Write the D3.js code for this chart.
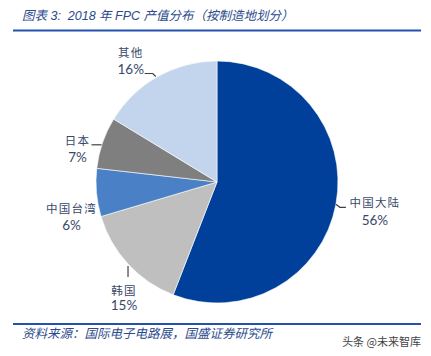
<!DOCTYPE html>
<html>
<head>
<meta charset="utf-8">
<script src="https://cdn.jsdelivr.net/npm/d3@7/dist/d3.min.js"></script>
<style>
  html, body { margin: 0; padding: 0; background: #fff; }
  svg { display: block; }
  text { white-space: pre; }
</style>
</head>
<body>
<svg id="chart" width="431" height="356"></svg>
<script>
// ---- data ----
const categories = ["中国大陆", "韩国", "中国台湾", "日本", "其他"];
const values = [55.9, 14.5, 6.4, 6.9, 16.3];
const percentLabels = ["56%", "15%", "6%", "7%", "16%"];
const colors = ["#00409a", "#bfbfbf", "#4a80c6", "#7f7f7f", "#c3d4ed"];
const titleText = "图表 3:  2018 年 FPC 产值分布（按制造地划分）";
const sourceText = "资料来源：国际电子电路展，国盛证券研究所";
const watermarkText = "头条 @未来智库";

const W = 431, H = 356;
const svg = d3.select("#chart");
const cx = 217, cy = 182, R = 121;

// header
svg.append("text").attr("x", 22).attr("y", 20)
  .attr("font-family", "'Liberation Sans', 'Noto Sans CJK SC', sans-serif")
  .attr("font-style", "italic").attr("font-size", 12.5)
  .attr("fill", "#2b4a8c").text(titleText);
svg.append("rect").attr("x", 13).attr("y", 29.5).attr("width", 408).attr("height", 2).attr("fill", "#2451b0");

// footer
svg.append("rect").attr("x", 13).attr("y", 323).attr("width", 408).attr("height", 2).attr("fill", "#2451b0");
svg.append("text").attr("x", 22).attr("y", 338)
  .attr("font-family", "'Noto Sans CJK SC', sans-serif")
  .attr("font-style", "italic").attr("font-size", 12.5)
  .attr("fill", "#2b4a8c").text(sourceText);
svg.append("text").attr("x", 421).attr("y", 346).attr("text-anchor", "end")
  .attr("font-family", "'Noto Sans CJK SC', sans-serif")
  .attr("font-size", 11).attr("fill", "#444").text(watermarkText);

// pie
const pie = d3.pie().sort(null).value(d => d)(values);
const arc = d3.arc().innerRadius(0).outerRadius(R);
const g = svg.append("g").attr("transform", `translate(${cx},${cy})`);
g.selectAll("path").data(pie).join("path")
  .attr("d", arc)
  .attr("fill", (d, i) => colors[i])
  .attr("stroke", "#fff").attr("stroke-width", 0.6);

// label layout relative to slice mid-point on the rim
const layouts = [
  { leader: [[0,0],[4,3],[10,3]], label: [39, -2], pct: [39, 16] },
  { leader: [[0,2],[0,13]],       label: [-4, 26], pct: [-4, 41] },
  { leader: null,                 label: [-25, 15], pct: [-25, 32] },
  { leader: [[-1,2],[-11,2]],     label: [-25, -3], pct: [-25, 14] },
  { leader: [[-2,0],[-5,-3],[-13,-3]], label: [-27, -25], pct: [-27, -8] }
];

const line = d3.line();
pie.forEach((d, i) => {
  const a = (d.startAngle + d.endAngle) / 2;
  const px = R * Math.sin(a), py = -R * Math.cos(a);
  const L = layouts[i];
  if (L.leader) {
    g.append("path")
      .attr("d", line(L.leader.map(p => [px + p[0], py + p[1]])))
      .attr("fill", "none").attr("stroke", "#404040").attr("stroke-width", 1.2);
  }
  g.append("text").attr("x", px + L.label[0]).attr("y", py + L.label[1])
    .attr("text-anchor", "middle").attr("dominant-baseline", "central")
    .attr("font-family", "'Noto Sans CJK SC', sans-serif").attr("font-size", 11.5)
    .attr("letter-spacing", 1.2)
    .attr("fill", "#38486a").text(categories[i]);
  g.append("text").attr("x", px + L.pct[0]).attr("y", py + L.pct[1])
    .attr("text-anchor", "middle").attr("dominant-baseline", "central")
    .attr("font-family", "Lato, 'Open Sans', sans-serif").attr("font-size", 13.5)
    .attr("fill", "#38486a").text(percentLabels[i]);
});
</script>
</body>
</html>
